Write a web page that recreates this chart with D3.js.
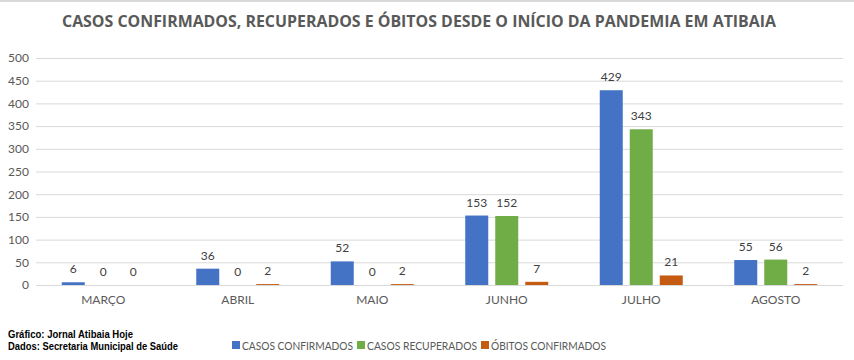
<!DOCTYPE html>
<html><head><meta charset="utf-8">
<script src="https://cdn.jsdelivr.net/npm/d3@7"></script>
<style>body{margin:0;background:#fff}svg{display:block}</style>
</head><body>
<svg id="c" width="854" height="360"></svg>
<script>
const categories = ["MARÇO","ABRIL","MAIO","JUNHO","JULHO","AGOSTO"];
const seriesNames = ["CASOS CONFIRMADOS","CASOS RECUPERADOS","ÓBITOS CONFIRMADOS"];
const confirmados = [6,36,52,153,429,55];
const recuperados = [0,0,0,152,343,56];
const obitos = [0,2,2,7,21,2];
const yTicks = [0,50,100,150,200,250,300,350,400,450,500];
const colors = ["#4472C4","#70AD47","#C55A11"];
const values = [confirmados, recuperados, obitos];

const svg = d3.select("#c");
const font = "Lato, 'Open Sans', sans-serif";
svg.append("rect").attr("x",0).attr("y",0).attr("width",854).attr("height",2).attr("fill","#d9d9d9");

const m = {l:36, r:843, t:58, b:285};
const x0 = d3.scaleBand().domain(categories).range([m.l, m.r]).padding(0);
const x1 = d3.scaleBand().domain(seriesNames).range([-41.5, 41.5]).paddingInner(7/30).paddingOuter(0);
const y = d3.scaleLinear().domain([0,500]).range([m.b, m.t]);

// grid
svg.append("g").selectAll("line").data(yTicks).join("line")
  .attr("x1", m.l).attr("x2", m.r)
  .attr("y1", d=>y(d)+0.5).attr("y2", d=>y(d)+0.5)
  .attr("stroke","#d9d9d9").attr("stroke-width",1);

// y axis labels
const yAxis = d3.axisLeft(y).tickValues(yTicks).tickSize(0).tickPadding(0);
const ya = svg.append("g").attr("transform",`translate(${m.l-7},0)`).call(yAxis);
ya.select(".domain").remove();
ya.selectAll("text").attr("font-family",font).attr("font-size",12).attr("fill","#595959");

// x axis labels
const xAxis = d3.axisBottom(x0).tickSize(0).tickPadding(0);
const xa = svg.append("g").attr("transform",`translate(0,${m.b+10})`).call(xAxis);
xa.select(".domain").remove();
xa.selectAll("text").attr("font-family",font).attr("font-size",12).attr("fill","#595959").attr("dy","0.71em");

// bars
const data = [];
categories.forEach((c,i)=>seriesNames.forEach((s,j)=>data.push({c,s,j,v:values[j][i]})));
svg.append("g").selectAll("rect").data(data).join("rect")
  .attr("x", d=>x0(d.c)+x0.bandwidth()/2+x1(d.s))
  .attr("width", x1.bandwidth())
  .attr("y", d=>y(d.v))
  .attr("height", d=>y(0)-y(d.v))
  .attr("fill", d=>colors[d.j]);

svg.append("g").selectAll("text").data(data).join("text")
  .attr("x", d=>x0(d.c)+x0.bandwidth()/2+x1(d.s)+x1.bandwidth()/2)
  .attr("y", d=>y(d.v)-9)
  .attr("text-anchor","middle")
  .attr("font-family",font).attr("font-size",12).attr("fill","#404040")
  .text(d=>d.v);

// title
svg.append("text").attr("x",419).attr("y",27).attr("text-anchor","middle")
  .attr("font-family","'Open Sans', sans-serif").attr("font-weight","bold").attr("font-size",16)
  .attr("fill","#595959").attr("textLength",714).attr("lengthAdjust","spacingAndGlyphs")
  .text("CASOS CONFIRMADOS, RECUPERADOS E ÓBITOS DESDE O INÍCIO DA PANDEMIA EM ATIBAIA");

// footer
svg.append("text").attr("x",8).attr("y",338).attr("font-family","'Liberation Sans', Arial, sans-serif")
  .attr("font-weight","bold").attr("font-size",10).attr("fill","#000")
  .attr("textLength",125).attr("lengthAdjust","spacingAndGlyphs").text("Gráfico: Jornal Atibaia Hoje");
svg.append("text").attr("x",8).attr("y",350).attr("font-family","'Liberation Sans', Arial, sans-serif")
  .attr("font-weight","bold").attr("font-size",10).attr("fill","#000")
  .attr("textLength",170).attr("lengthAdjust","spacingAndGlyphs").text("Dados: Secretaria Municipal de Saúde");

// legend
const legX = [232, 357, 481];
const legW = [111, 110, 115];
const lg = svg.append("g").selectAll("g").data(seriesNames).join("g")
  .attr("transform",(d,i)=>`translate(${legX[i]},345)`);
lg.append("rect").attr("x",0).attr("y",-4).attr("width",8).attr("height",8).attr("fill",(d,i)=>colors[i]);
lg.append("text").attr("x",10).attr("y",4.5).attr("font-family",font).attr("font-size",12).attr("fill","#595959")
  .attr("textLength",(d,i)=>legW[i]).attr("lengthAdjust","spacingAndGlyphs").text(d=>d);
</script>
</body></html>
